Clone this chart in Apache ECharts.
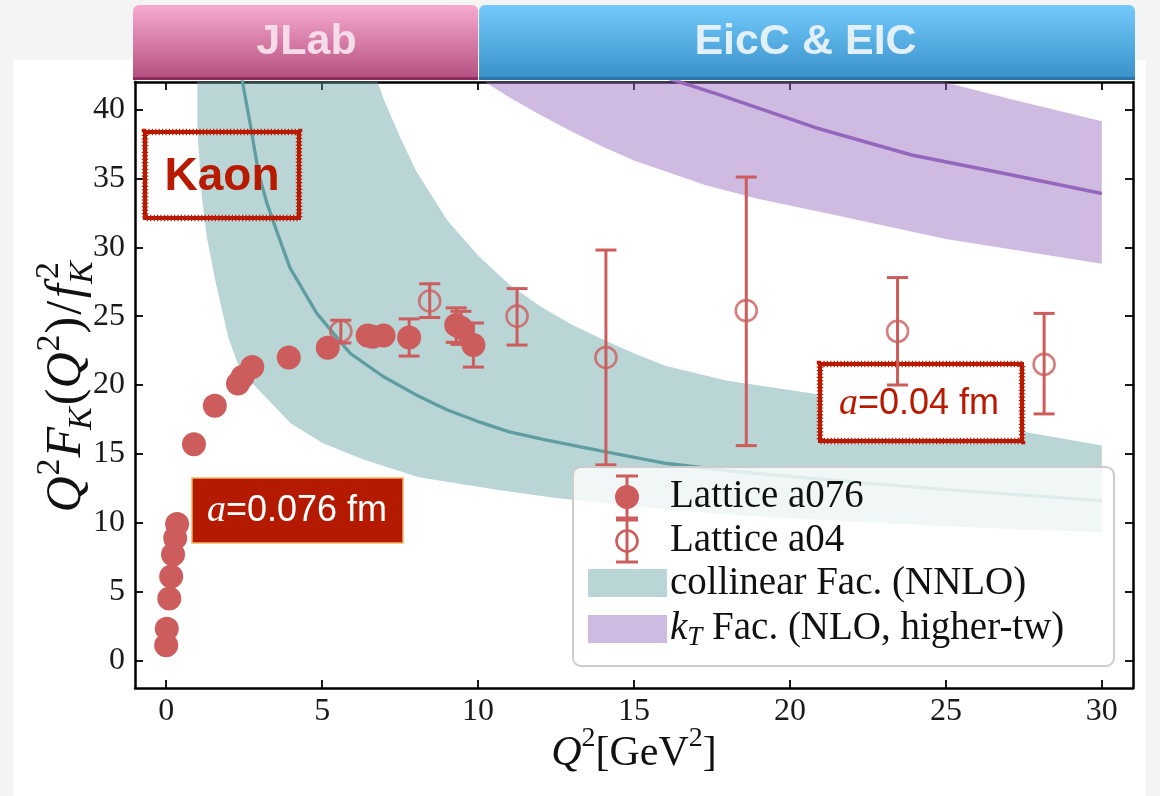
<!DOCTYPE html>
<html>
<head>
<meta charset="utf-8">
<script src="https://cdn.jsdelivr.net/npm/echarts@6/dist/echarts.min.js"></script>
<style>
  html, body { margin: 0; padding: 0; background: #f4f4f4; }
  #chart { width: 1160px; height: 796px; }
</style>
</head>
<body>
<div id="chart"></div>
<script>
// ---- tick positions ----
const xTicks = [0, 5, 10, 15, 20, 25, 30];
const yTicks = [0, 5, 10, 15, 20, 25, 30, 35, 40];

// ---- Lattice a076 (filled circles) ----
const a076Q2  = [0.0, 0.02, 0.1, 0.16, 0.22, 0.29, 0.35, 0.89, 1.56, 2.3, 2.45, 2.76, 3.93, 5.18, 6.46, 6.62, 6.97, 7.79, 9.3, 9.45, 9.85];
const a076Val = [1.1, 2.3, 4.5, 6.1, 7.7, 8.9, 9.9, 15.7, 18.5, 20.1, 20.6, 21.3, 22.0, 22.7, 23.6, 23.5, 23.6, 23.45, 24.35, 24.15, 22.9];
const a076Err = [0, 0, 0, 0, 0, 0, 0, 0, 0, 0, 0, 0, 0, 0, 0, 0, 0, 1.35, 1.25, 1.2, 1.6];

// ---- Lattice a04 (open circles) ----
const a04Q2  = [5.6, 8.45, 11.25, 14.1, 18.6, 23.45, 28.15];
const a04Val = [23.9, 26.1, 25.0, 22.0, 25.4, 23.9, 21.5];
const a04Lo  = [23.05, 24.9, 22.9, 14.2, 15.6, 20.0, 17.9];
const a04Hi  = [24.7, 27.35, 27.0, 29.8, 35.1, 27.8, 25.2];

// ---- collinear factorization (NNLO) band and central curve ----
const colUpQ2  = [1.0, 2, 3, 4, 5, 6, 6.75, 7, 7.5, 8, 9, 10, 11, 12, 13, 14, 15, 16, 18, 21, 25, 30];
const colUp    = [120, 85, 66, 56, 49.5, 45, 42.2, 40.6, 38.0, 35.6, 32.0, 29.4, 27.3, 25.7, 24.4, 23.3, 22.3, 21.4, 20.3, 19.3, 17.6, 15.6];
const colLoQ2  = [1.0, 1.15, 1.3, 1.57, 2.0, 2.4, 2.9, 4, 5, 6.3, 8.1, 10.6, 12.5, 15, 18, 21, 24, 27, 30];
const colLo    = [38.5, 33.5, 30.8, 27.6, 23.4, 20.9, 19.8, 17.2, 15.8, 14.6, 13.3, 12.4, 11.8, 11.2, 10.6, 10.2, 9.85, 9.55, 9.3];
const colMidQ2 = [2.2, 2.43, 2.69, 2.96, 3.23, 3.65, 3.97, 4.83, 5.9, 6.97, 8.0, 9.0, 10.06, 11.0, 12.2, 14.1, 16.06, 18.35, 21.8, 25, 30];
const colMid   = [45.5, 42.2, 39.0, 35.4, 33.2, 30.5, 28.5, 25.2, 22.3, 20.6, 19.3, 18.2, 17.3, 16.6, 16.0, 15.15, 14.3, 13.7, 13.0, 12.4, 11.6];

// ---- kT factorization (NLO, higher twist) band and central curve ----
const ktUpQ2  = [10, 12, 15, 18, 21, 24.6, 27, 30];
const ktUp    = [56, 53, 49.5, 46.8, 44.4, 42.2, 40.8, 39.15];
const ktLoQ2  = [10, 11, 12, 13, 14, 15, 17.3, 19, 21.1, 25, 30];
const ktLo    = [42.3, 40.9, 39.6, 38.4, 37.3, 36.3, 34.5, 33.5, 32.5, 30.6, 28.8];
const ktMidQ2 = [15, 16.2, 17.7, 20.8, 23.9, 27, 30];
const ktMid   = [43.1, 42.2, 41.1, 38.7, 36.7, 35.3, 33.9];

const RED = '#cd5c5c';
const ANN = '#b81a00';
const SERIF = 'Liberation Serif';
const SANS = 'Liberation Sans';

const zip = (xs, ys) => xs.map((x, i) => [x, ys[i]]);

// polygon band between an upper and a lower curve
function bandRenderer(upX, upY, loX, loY, fill) {
  return function (params, api) {
    const pts = [];
    upX.forEach((x, i) => pts.push(api.coord([x, upY[i]])));
    for (let i = loX.length - 1; i >= 0; i--) pts.push(api.coord([loX[i], loY[i]]));
    return { type: 'polygon', shape: { points: pts }, style: { fill: fill, stroke: null } };
  };
}

// vertical error bar with caps
function errorBarRenderer(params, api) {
  const x = api.value(0), lo = api.value(1), hi = api.value(2);
  const a = api.coord([x, lo]), b = api.coord([x, hi]);
  const hw = 10.5;
  const st = { stroke: RED, lineWidth: 3, fill: null };
  return {
    type: 'group',
    children: [
      { type: 'line', shape: { x1: a[0], y1: a[1], x2: b[0], y2: b[1] }, style: st },
      { type: 'line', shape: { x1: a[0] - hw, y1: a[1], x2: a[0] + hw, y2: a[1] }, style: st },
      { type: 'line', shape: { x1: b[0] - hw, y1: b[1], x2: b[0] + hw, y2: b[1] }, style: st }
    ]
  };
}

const a076Bars = [];
a076Q2.forEach((x, i) => { if (a076Err[i] > 0) a076Bars.push([x, a076Val[i] - a076Err[i], a076Val[i] + a076Err[i]]); });
const a04Bars = a04Q2.map((x, i) => [x, a04Lo[i], a04Hi[i]]);

// text measuring for hand-set math labels
const mctx = document.createElement('canvas').getContext('2d');
function measure(t, size, italic, bold, family) {
  mctx.font = (italic ? 'italic ' : '') + (bold ? 'bold ' : '') + size + 'px "' + family + '"';
  return mctx.measureText(t).width;
}
function mathRow(pieces, opt) {
  let cursor = 0, prevStart = 0, prevW = 0;
  const items = [];
  pieces.forEach(p => {
    const fam = p.family || opt.family;
    const w = measure(p.t, p.size, p.italic, p.bold, fam);
    let x0;
    if (p.stack) {
      x0 = prevStart + (p.shift || 0);
      const adv = Math.max(prevW, w + (p.shift || 0));
      cursor = prevStart + adv;
      prevW = adv;
    } else {
      x0 = cursor + (p.shift || 0);
      prevStart = cursor;
      prevW = w + (p.shift || 0);
      cursor += w + (p.shift || 0);
    }
    items.push({ p, x0, fam });
  });
  const off = opt.align === 'center' ? -cursor / 2 : 0;
  return {
    type: 'group', x: opt.x, y: opt.y, rotation: opt.rotation || 0, z: opt.z || 50,
    children: items.map(o => ({
      type: 'text', x: o.x0 + off, y: o.p.dy || 0, z: opt.z || 50,
      style: {
        text: o.p.t, fontSize: o.p.size, fontFamily: o.fam,
        fontStyle: o.p.italic ? 'italic' : 'normal', fontWeight: o.p.bold ? 'bold' : 'normal',
        fill: o.p.color || opt.color, align: 'left', verticalAlign: 'middle'
      }
    }))
  };
}

// hand-drawn looking rectangle outline
function roughRect(x, y, w, h, z, fill) {
  return [
    { type: 'rect', z: z, shape: { x, y, width: w, height: h }, style: { fill: fill || 'rgba(0,0,0,0)', stroke: ANN, lineWidth: 4 } },
    { type: 'rect', z: z, shape: { x, y, width: w, height: h }, style: { fill: null, stroke: ANN, lineWidth: 6.5, lineDash: [1.2, 2.2] } }
  ];
}

const chart = echarts.init(document.getElementById('chart'), null, { renderer: 'canvas' });

const axisLineStyle = { color: '#000', width: 2.5 };
const tickStyle = { color: '#000', width: 1.8 };

const option = {
  backgroundColor: '#f4f4f4',
  animation: false,
  grid: { left: 135, top: 82, width: 998, height: 606, containLabel: false },
  xAxis: [
    {
      type: 'value', min: -1, max: 31, position: 'bottom',
      axisLine: { onZero: false, lineStyle: axisLineStyle },
      axisTick: { inside: true, length: 8, lineStyle: tickStyle, customValues: xTicks },
      axisLabel: { customValues: xTicks, fontFamily: SERIF, fontSize: 32, color: '#1a1a1a', margin: 8 },
      splitLine: { show: false }
    },
    {
      type: 'value', min: -1, max: 31, position: 'top',
      axisLine: { onZero: false, lineStyle: axisLineStyle },
      axisTick: { inside: true, length: 8, lineStyle: tickStyle, customValues: xTicks },
      axisLabel: { show: false },
      splitLine: { show: false }
    }
  ],
  yAxis: [
    {
      type: 'value', min: -2, max: 42, position: 'left',
      axisLine: { onZero: false, lineStyle: axisLineStyle },
      axisTick: { inside: true, length: 8, lineStyle: tickStyle, customValues: yTicks },
      axisLabel: { customValues: yTicks, fontFamily: SERIF, fontSize: 32, color: '#1a1a1a', margin: 10 },
      splitLine: { show: false }
    },
    {
      type: 'value', min: -2, max: 42, position: 'right',
      axisLine: { onZero: false, lineStyle: axisLineStyle },
      axisTick: { inside: true, length: 8, lineStyle: tickStyle, customValues: yTicks },
      axisLabel: { show: false },
      splitLine: { show: false }
    }
  ],
  series: [
    {
      type: 'custom', name: 'collinear band', z: 1, clip: true, silent: true,
      data: [[0, 0]],
      renderItem: bandRenderer(colUpQ2, colUp, colLoQ2, colLo, 'rgba(95,158,160,0.43)')
    },
    {
      type: 'custom', name: 'kT band', z: 1, clip: true, silent: true,
      data: [[0, 0]],
      renderItem: bandRenderer(ktUpQ2, ktUp, ktLoQ2, ktLo, 'rgba(148,103,189,0.45)')
    },
    {
      type: 'line', name: 'collinear central', z: 2, clip: true, silent: true,
      data: zip(colMidQ2, colMid), showSymbol: false, symbol: 'none',
      lineStyle: { color: '#5f9ea0', width: 3.3 }
    },
    {
      type: 'line', name: 'kT central', z: 2, clip: true, silent: true,
      data: zip(ktMidQ2, ktMid), showSymbol: false, symbol: 'none',
      lineStyle: { color: '#9467bd', width: 3.5 }
    },
    {
      type: 'custom', name: 'a076 errors', z: 4, silent: true,
      data: a076Bars, renderItem: errorBarRenderer
    },
    {
      type: 'custom', name: 'a04 errors', z: 4, silent: true,
      data: a04Bars, renderItem: errorBarRenderer
    },
    {
      type: 'scatter', name: 'Lattice a076', z: 5, silent: true,
      data: zip(a076Q2, a076Val), symbol: 'circle', symbolSize: 24,
      itemStyle: { color: RED, opacity: 1 }
    },
    {
      type: 'scatter', name: 'Lattice a04', z: 5, silent: true,
      data: zip(a04Q2, a04Val), symbol: 'circle', symbolSize: 21,
      itemStyle: { color: 'rgba(0,0,0,0)', borderColor: RED, borderWidth: 2.6 }
    }
  ]
};
chart.setOption(option);

// ---- decorations: page panel, banners, labels, annotations, legend ----
const gx = v => chart.convertToPixel({ xAxisIndex: 0 }, v);
const xLeft = gx(-1), xMid = gx(10), xRight = gx(31);

const S = 50, s = 34;
const yLabel = mathRow([
  { t: 'Q', size: S, italic: true },
  { t: '2', size: s, dy: -17, shift: 1 },
  { t: 'F', size: S, italic: true, shift: 1 },
  { t: 'K', size: s, italic: true, dy: 15, shift: -3 },
  { t: '(', size: S, shift: 2 },
  { t: 'Q', size: S, italic: true },
  { t: '2', size: s, dy: -17, shift: 1 },
  { t: ')', size: S, shift: 1 },
  { t: '/', size: S, shift: 2 },
  { t: 'f', size: S, italic: true, shift: 3 },
  { t: '2', size: s, dy: -18, shift: 5 },
  { t: 'K', size: s, italic: true, dy: 16, stack: true, shift: 0 }
], { x: 67, y: 387, rotation: Math.PI / 2, align: 'center', family: SERIF, color: '#111', z: 50 });

const xLabel = mathRow([
  { t: 'Q', size: 42, italic: true },
  { t: '2', size: 28, dy: -15 },
  { t: '[GeV', size: 42 },
  { t: '2', size: 28, dy: -15 },
  { t: ']', size: 42 }
], { x: (xLeft + xRight) / 2, y: 754, align: 'center', family: SERIF, color: '#111', z: 50 });

function legendText(pieces, y) {
  return mathRow(pieces, { x: 670, y: y, align: 'left', family: SERIF, color: '#111', z: 101 });
}

const legendIcon = (cy, filled) => {
  const st = { stroke: RED, lineWidth: 3, fill: null };
  const top = cy - 21, bot = cy + 21;
  return {
    type: 'group', z: 101,
    children: [
      { type: 'line', z: 101, shape: { x1: 627, y1: top, x2: 627, y2: bot }, style: st },
      { type: 'line', z: 101, shape: { x1: 616, y1: top, x2: 638, y2: top }, style: st },
      { type: 'line', z: 101, shape: { x1: 616, y1: bot, x2: 638, y2: bot }, style: st },
      filled
        ? { type: 'circle', z: 102, shape: { cx: 627, cy: cy, r: 12 }, style: { fill: RED } }
        : { type: 'circle', z: 102, shape: { cx: 627, cy: cy, r: 10.5 }, style: { fill: null, stroke: RED, lineWidth: 2.6 } }
    ]
  };
};

const graphics = [
  // white page panel
  { type: 'rect', z: -10, shape: { x: 13, y: 60, width: 1133, height: 736 }, style: { fill: '#ffffff' } },
  // banners
  {
    type: 'rect', z: 60, shape: { x: xLeft - 2, y: 5, width: xMid - xLeft + 2, height: 75, r: [6, 6, 0, 0] },
    style: { fill: new echarts.graphic.LinearGradient(0, 0, 0, 1, [{ offset: 0, color: '#f8abd0' }, { offset: 1, color: '#b34d7d' }]) }
  },
  { type: 'rect', z: 61, shape: { x: xLeft - 2, y: 77, width: xMid - xLeft + 2, height: 3 }, style: { fill: '#8e2a5c' } },
  {
    type: 'rect', z: 60, shape: { x: xMid + 1, y: 5, width: xRight - xMid + 1, height: 75, r: [6, 6, 0, 0] },
    style: { fill: new echarts.graphic.LinearGradient(0, 0, 0, 1, [{ offset: 0, color: '#74cafc' }, { offset: 1, color: '#3890c8' }]) }
  },
  { type: 'rect', z: 61, shape: { x: xMid + 1, y: 77, width: xRight - xMid + 1, height: 3 }, style: { fill: '#2a76ab' } },
  {
    type: 'text', z: 62, x: (xLeft + xMid) / 2, y: 42,
    style: { text: 'JLab', fontFamily: SANS, fontWeight: 'bold', fontSize: 43, fill: '#f6dbe8', align: 'center', verticalAlign: 'middle' }
  },
  {
    type: 'text', z: 62, x: (xMid + xRight) / 2, y: 42,
    style: { text: 'EicC & EIC', fontFamily: SANS, fontWeight: 'bold', fontSize: 43, fill: '#e2f0f9', align: 'center', verticalAlign: 'middle' }
  },
  // axis titles
  yLabel,
  xLabel,
  // "Kaon" box
  ...roughRect(145, 132, 154, 86, 6),
  {
    type: 'text', z: 7, x: 222, y: 177,
    style: { text: 'Kaon', fontFamily: SANS, fontWeight: 'bold', fontSize: 46, fill: ANN, align: 'center', verticalAlign: 'middle' }
  },
  // a = 0.076 fm tag
  { type: 'rect', z: 6, shape: { x: 192, y: 478, width: 211, height: 65 }, style: { fill: '#b41a00', stroke: '#f2b45e', lineWidth: 1.5 } },
  mathRow([
    { t: 'a', size: 38, italic: true, family: SERIF },
    { t: '=0.076 fm', size: 36, family: SANS }
  ], { x: 297, y: 511, align: 'center', family: SANS, color: '#ffffff', z: 7 }),
  // a = 0.04 fm tag
  ...roughRect(820, 364, 202, 77, 3, '#ffffff'),
  mathRow([
    { t: 'a', size: 38, italic: true, family: SERIF },
    { t: '=0.04 fm', size: 36, family: SANS }
  ], { x: 919, y: 404, align: 'center', family: SANS, color: ANN, z: 3 }),
  // legend
  { type: 'rect', z: 100, shape: { x: 573, y: 467, width: 541, height: 199, r: 8 }, style: { fill: 'rgba(255,255,255,0.8)', stroke: '#cccccc', lineWidth: 2 } },
  legendIcon(497, true),
  legendIcon(541, false),
  { type: 'rect', z: 101, shape: { x: 588, y: 569, width: 79, height: 28 }, style: { fill: 'rgba(95,158,160,0.43)' } },
  { type: 'rect', z: 101, shape: { x: 588, y: 615, width: 79, height: 28 }, style: { fill: 'rgba(148,103,189,0.45)' } },
  legendText([{ t: 'Lattice a076', size: 39 }], 497),
  legendText([{ t: 'Lattice a04', size: 39 }], 541),
  legendText([{ t: 'collinear Fac. (NNLO)', size: 39 }], 584),
  legendText([
    { t: 'k', size: 39, italic: true },
    { t: 'T', size: 27, italic: true, dy: 9 },
    { t: ' Fac. (NLO, higher-tw)', size: 39 }
  ], 629)
];

chart.setOption({ graphic: { elements: graphics } });
</script>
</body>
</html>
